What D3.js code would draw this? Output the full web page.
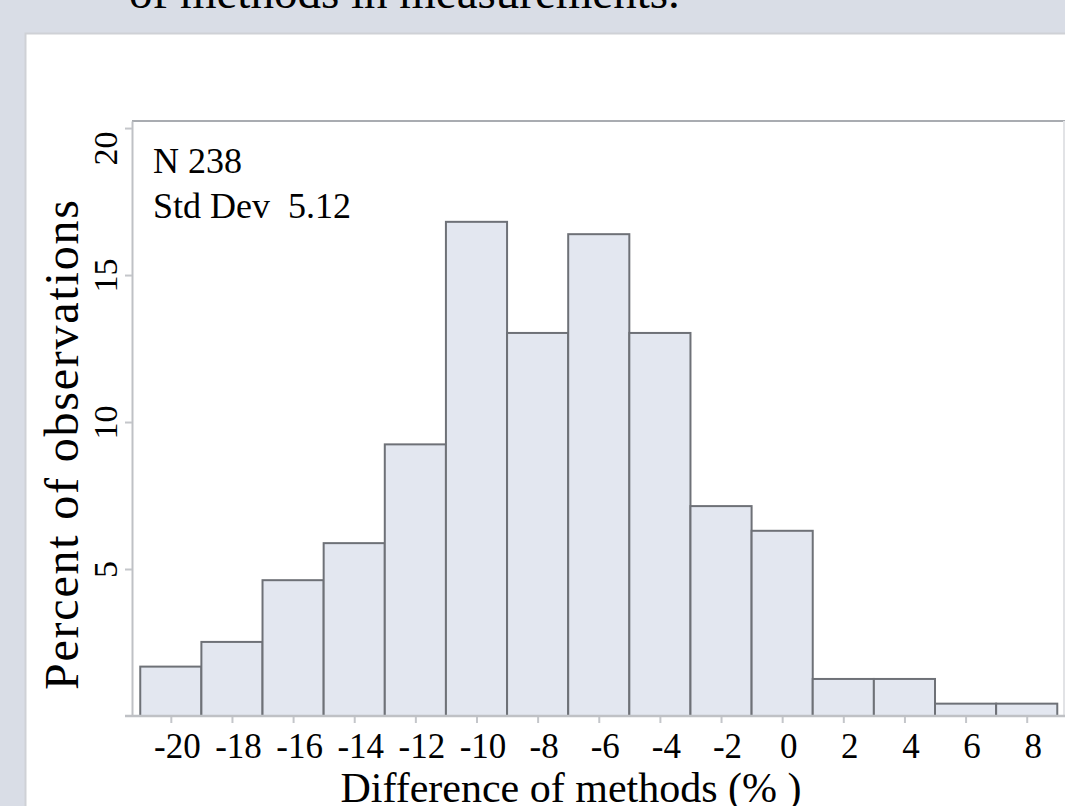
<!DOCTYPE html>
<html>
<head>
<meta charset="utf-8">
<script src="https://cdn.jsdelivr.net/npm/d3@7"></script>
<style>
  html, body { margin: 0; padding: 0; background: #d9dde6; }
  svg { display: block; }
  text { font-family: "Liberation Serif", "Times New Roman", serif; fill: #000; }
</style>
</head>
<body>
<svg id="chart" width="1065" height="806"></svg>
<script>
// Histogram of method differences: bin centres (%) and share of observations (%)
const binCenters = [-20, -18, -16, -14, -12, -10, -8, -6, -4, -2, 0, 2, 4, 6, 8];
const percentObs = [1.68, 2.52, 4.62, 5.88, 9.24, 16.81, 13.03, 16.39, 13.03, 7.14, 6.30, 1.26, 1.26, 0.42, 0.42];
const binWidth = 2;
const xTickValues = [-20, -18, -16, -14, -12, -10, -8, -6, -4, -2, 0, 2, 4, 6, 8];
const yTickValues = [5, 10, 15, 20];
const statLines = ["N 238", "Std Dev\u00a0\u00a05.12"];
const titleText = "of methods in measurements.";
const xTitle = "Difference of methods (% )";
const yTitle = "Percent of observations";

const svg = d3.select("#chart");

// page title, running off the top edge
svg.append("text")
  .attr("x", 129).attr("y", 8)
  .style("font-size", "47px")
  .text(titleText);

// white figure panel
svg.append("rect")
  .attr("x", 25.5).attr("y", 33.5)
  .attr("width", 1100).attr("height", 900)
  .attr("fill", "#fff").attr("stroke", "#cfd1d6").attr("stroke-width", 2);

const x = d3.scaleLinear().domain([-21.27, 9.22]).range([132, 1064]);
const y = d3.scaleLinear().domain([0, 20.24]).range([716, 121]);

// frame: top and right edges
svg.append("line")
  .attr("x1", x.range()[0]).attr("x2", x.range()[1] + 2)
  .attr("y1", y.range()[1]).attr("y2", y.range()[1])
  .attr("stroke", "#a9acb1").attr("stroke-width", 2);
svg.append("line")
  .attr("x1", x.range()[1]).attr("x2", x.range()[1])
  .attr("y1", y.range()[1]).attr("y2", y.range()[0])
  .attr("stroke", "#e2e3e6").attr("stroke-width", 2);

// bars
svg.append("g").selectAll("rect")
  .data(binCenters.map((c, i) => ({ c, v: percentObs[i] })))
  .join("rect")
  .attr("x", d => x(d.c - binWidth / 2))
  .attr("width", d => x(d.c + binWidth / 2) - x(d.c - binWidth / 2))
  .attr("y", d => y(d.v))
  .attr("height", d => y(0) - y(d.v))
  .attr("fill", "#e3e7f0")
  .attr("stroke", "#6e7177")
  .attr("stroke-width", 2);

// x axis
const gx = svg.append("g")
  .attr("transform", `translate(0,${y(0)})`)
  .call(d3.axisBottom(x).tickValues(xTickValues).tickSize(7).tickSizeOuter(0).tickFormat(d3.format("d")));
gx.select(".domain").remove();
gx.append("line")
  .attr("x1", x.range()[0] - 7).attr("x2", x.range()[1] + 2)
  .attr("stroke", "#bfc1c5").attr("stroke-width", 2.5);
gx.selectAll(".tick line").attr("stroke", "#c4c6ca").attr("stroke-width", 2);
gx.selectAll(".tick text")
  .attr("y", 42).attr("dy", 0).attr("dx", 6)
  .style("font-size", "35px")
  .style("font-family", "Liberation Serif, serif")
  .text(d => d < 0 ? "-" + Math.abs(d) : String(d));

// y axis
const gy = svg.append("g")
  .attr("transform", `translate(${x.range()[0]},0)`)
  .call(d3.axisLeft(y).tickValues(yTickValues).tickSize(7).tickSizeOuter(0));
gy.select(".domain").attr("stroke", "#bfc1c5").attr("stroke-width", 2);
gy.selectAll(".tick line").attr("stroke", "#c4c6ca").attr("stroke-width", 2);
gy.selectAll(".tick text")
  .attr("x", 0).attr("dy", 0)
  .attr("transform", d => `translate(-15,${d === 20 ? 20 : 0}) rotate(-90)`)
  .attr("text-anchor", "middle")
  .style("font-size", "34px")
  .style("font-family", "Liberation Serif, serif");

// axis titles
svg.append("text")
  .attr("x", 571).attr("y", 802)
  .attr("text-anchor", "middle")
  .style("font-size", "42px")
  .text(xTitle);
svg.append("text")
  .attr("transform", "translate(78,445) rotate(-90)")
  .attr("text-anchor", "middle")
  .attr("textLength", 490)
  .attr("lengthAdjust", "spacing")
  .style("font-size", "48px")
  .text(yTitle);

// summary statistics
svg.append("g").selectAll("text")
  .data(statLines)
  .join("text")
  .attr("x", 153)
  .attr("y", (d, i) => 173 + i * 45)
  .style("font-size", "36px")
  .text(d => d);
</script>
</body>
</html>
